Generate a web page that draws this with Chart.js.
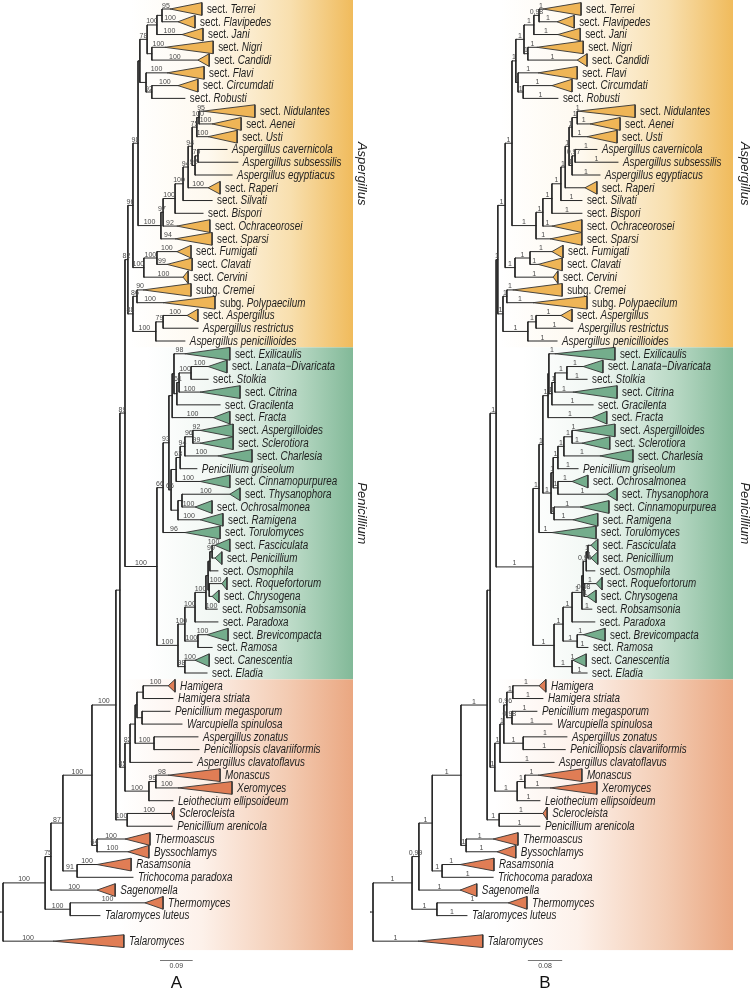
<!DOCTYPE html>
<html>
<head>
<meta charset="utf-8">
<title>Aspergillaceae phylogeny</title>
<script src="https://cdn.jsdelivr.net/npm/chart.js@4.4.1/dist/chart.umd.min.js"></script>
<style>
  html, body { margin: 0; padding: 0; background: #fff; }
  body { position: relative; width: 753px; height: 993px; overflow: hidden; }
  .panel { position: absolute; top: 0; height: 993px; }
  #panelA { left: 0; width: 370px; }
  #panelB { left: 370px; width: 383px; }
</style>
</head>
<body>
<div class="panel" id="panelA"><canvas id="treeA"></canvas></div>
<div class="panel" id="panelB"><canvas id="treeB"></canvas></div>
<script>
// ---------- data ----------
// internal nodes: [id, parent, depth from root (subst./site), support]
const nodesA = [
  ['root', null, 0, ''],
  ['tT', 'root', 0.116, '100'], ['tU', 'tT', 0.132, '75'], ['tV', 'tU', 0.165, '87'],
  ['tW', 'tV', 0.245, '100'], ['tZ', 'tW', 0.311, '100'], ['tY', 'tZ', 0.322, ''],
  ['tX', 'tY', 0.336, '89'], ['asp', 'tX', 0.344, '82'], ['a11', 'asp', 0.358, '96'],
  ['a8', 'a11', 0.372, '98'], ['a5', 'a8', 0.377, ''], ['a3', 'a5', 0.397, '78'],
  ['a2', 'a3', 0.424, '100'], ['a1', 'a2', 0.438, ''], ['a4', 'a3', 0.410, ''],
  ['a6', 'a5', 0.394, ''], ['a7', 'a6', 0.410, '92'], ['a10', 'a8', 0.435, '100'],
  ['aq', 'a10', 0.441, '97'], ['ab2', 'aq', 0.474, '100'], ['ac2', 'ab2', 0.496, '100'],
  ['ad2', 'ac2', 0.510, '94'], ['ac', 'ad2', 0.521, '94'], ['ab', 'ac', 0.534, '75'],
  ['aa', 'ab', 0.540, '100'], ['ace3', 'ac', 0.529, '92'], ['acs', 'ace3', 0.537, '79'],
  ['afcc', 'a11', 0.388, '100'], ['afc', 'afcc', 0.424, '100'],
  ['acparp', 'asp', 0.358, '88'], ['acp', 'acparp', 0.369, '86'],
  ['aarp', 'acparp', 0.421, '100'], ['aar', 'aarp', 0.441, '79'],
  ['pen', 'tX', 0.424, '100'], ['pup', 'pen', 0.441, '66'], ['px', 'pup', 0.457, '93'],
  ['pef', 'px', 0.466, ''], ['pe', 'pef', 0.471, ''], ['plscg', 'pe', 0.479, ''],
  ['plsc', 'plscg', 0.485, '61'], ['pls', 'plsc', 0.518, '100'],
  ['py', 'px', 0.463, '66'], ['pg2', 'py', 0.477, ''], ['pascg', 'pg2', 0.488, '63'],
  ['pasc', 'pascg', 0.501, '94'], ['pas', 'pasc', 0.523, '96'],
  ['pr', 'py', 0.482, ''], ['pto', 'pr', 0.493, ''],
  ['plow', 'pen', 0.482, '100'], ['ppb', 'plow', 0.501, '100'], ['ppar', 'ppb', 0.529, '100'],
  ['prob', 'ppar', 0.559, '100'], ['pfrc', 'prob', 0.565, ''], ['pfpo', 'pfrc', 0.570, ''],
  ['pfp', 'pfpo', 0.576, '99'], ['prc', 'pfrc', 0.568, ''], ['pbr', 'ppb', 0.537, '100'],
  ['pce', 'plow', 0.501, '98'],
  ['oth', 'tY', 0.336, '85'], ['ohc', 'oth', 0.350, '82'], ['oh6', 'ohc', 0.364, ''],
  ['ohw', 'oh6', 0.369, ''], ['oham', 'ohw', 0.386, ''], ['omw', 'ohw', 0.383, ''],
  ['ozp', 'oh6', 0.416, '100'], ['omon', 'oth', 0.402, '100'], ['omx', 'omon', 0.421, '99'],
  ['osa', 'tZ', 0.342, '100'], ['otb', 'tW', 0.259, '64'], ['ort', 'tV', 0.204, '91'],
  ['otl', 'tT', 0.185, '100']
];
// tips in display order: [label, parent, branch end, collapsed-clade end (null = single taxon), support]
const tipsA = [
  ['sect. Terrei', 'a1', 0.460, 0.548, '95'], ['sect. Flavipedes', 'a1', 0.482, 0.529, '100'],
  ['sect. Jani', 'a2', 0.493, 0.551, '100'], ['sect. Nigri', 'a4', 0.446, 0.579, '100'],
  ['sect. Candidi', 'a4', 0.537, 0.568, '100'], ['sect. Flavi', 'a6', 0.452, 0.554, '100'],
  ['sect. Circumdati', 'a7', 0.482, 0.537, '100'], ['sect. Robusti', 'a7', 0.501, null, ''],
  ['sect. Nidulantes', 'aa', 0.551, 0.694, '95'], ['sect. Aenei', 'aa', 0.576, 0.656, '100'],
  ['sect.  Usti', 'ab', 0.565, 0.645, '100'], ['Aspergillus cavernicola', 'acs', 0.617, null, ''],
  ['Aspergillus subsessilis', 'acs', 0.647, null, ''], ['Aspergillus egyptiacus', 'ace3', 0.631, null, ''],
  ['sect. Raperi', 'ad2', 0.565, 0.598, '100'], ['sect. Silvati', 'ac2', 0.576, null, ''],
  ['sect. Bispori', 'ab2', 0.551, null, ''], ['sect. Ochraceorosei', 'aq', 0.479, 0.570, '92'],
  ['sect. Sparsi', 'a10', 0.474, 0.576, '94'], ['sect. Fumigati', 'afc', 0.479, 0.518, '100'],
  ['sect. Clavati', 'afc', 0.452, 0.521, '99'], ['sect. Cervini', 'afcc', 0.496, 0.510, '100'],
  ['subg. Cremei', 'acp', 0.386, 0.518, '90'], ['subg. Polypaecilum', 'acp', 0.441, 0.584, '100'],
  ['sect. Aspergillus', 'aar', 0.507, 0.537, '100'], ['Aspergillus restrictus', 'aar', 0.537, null, ''],
  ['Aspergillus penicillioides', 'aarp', 0.501, null, ''],
  ['sect. Exilicaulis', 'pe', 0.501, 0.625, '98'], ['sect. Lanata\u2212Divaricata', 'pls', 0.565, 0.617, '100'],
  ['sect. Stolkia', 'pls', 0.565, null, ''], ['sect. Citrina', 'plsc', 0.543, 0.653, '100'],
  ['sect. Gracilenta', 'plscg', 0.598, null, ''], ['sect. Fracta', 'pef', 0.579, 0.625, '100'],
  ['sect. Aspergilloides', 'pas', 0.543, 0.634, '92'], ['sect. Sclerotiora', 'pas', 0.543, 0.634, '99'],
  ['sect. Charlesia', 'pasc', 0.592, 0.686, '100'], ['Penicillium griseolum', 'pascg', 0.534, null, ''],
  ['sect. Cinnamopurpurea', 'pg2', 0.543, 0.625, '100'], ['sect. Thysanophora', 'pto', 0.625, 0.653, '100'],
  ['sect. Ochrosalmonea', 'pto', 0.529, 0.576, '100'], ['sect. Ramigena', 'pr', 0.543, 0.606, '100'],
  ['sect. Torulomyces', 'pup', 0.501, 0.598, '96'], ['sect. Fasciculata', 'pfp', 0.584, 0.625, '100'],
  ['sect. Penicillium', 'pfp', 0.584, 0.603, ''], ['sect. Osmophila', 'pfpo', 0.592, null, ''],
  ['sect. Roquefortorum', 'prc', 0.603, 0.617, '100'], ['sect. Chrysogena', 'prc', 0.576, 0.595, ''],
  ['sect. Robsamsonia', 'prob', 0.590, null, '100'], ['sect. Paradoxa', 'ppar', 0.592, null, ''],
  ['sect. Brevicompacta', 'pbr', 0.562, 0.620, '100'], ['sect. Ramosa', 'pbr', 0.576, null, ''],
  ['sect. Canescentia', 'pce', 0.529, 0.568, '100'], ['sect. Eladia', 'pce', 0.562, null, ''],
  ['Hamigera', 'oham', 0.455, 0.474, '100'], ['Hamigera striata', 'oham', 0.468, null, ''],
  ['Penicillium megasporum', 'omw', 0.460, null, ''], ['Warcupiella spinulosa', 'omw', 0.493, null, ''],
  ['Aspergillus zonatus', 'ozp', 0.537, null, ''], ['Penicilliopsis clavariiformis', 'ozp', 0.540, null, ''],
  ['Aspergillus clavatoflavus', 'ohc', 0.521, null, ''], ['Monascus', 'omx', 0.455, 0.598, '98'],
  ['Xeromyces', 'omx', 0.482, 0.631, '100'], ['Leiothecium ellipsoideum', 'omon', 0.468, null, ''],
  ['Sclerocleista', 'osa', 0.463, 0.471, '100'], ['Penicillium arenicola', 'osa', 0.466, null, ''],
  ['Thermoascus', 'otb', 0.336, 0.405, '100'], ['Byssochlamys', 'otb', 0.344, 0.402, '100'],
  ['Rasamsonia', 'ort', 0.259, 0.353, '100'], ['Trichocoma paradoxa', 'ort', 0.358, null, ''],
  ['Sagenomella', 'tU', 0.259, 0.309, '100'], ['Thermomyces', 'otl', 0.391, 0.441, '100'],
  ['Talaromyces luteus', 'otl', 0.267, null, ''], ['Talaromyces', 'root', 0.138, 0.333, '100']
];

const nodesB = [
  ['root', null, 0, ''],
  ['tT', 'root', 0.091, '1'], ['tU', 'tT', 0.107, '0,99'], ['tV', 'tU', 0.138, '1'],
  ['tW', 'tV', 0.205, '1'], ['tZ', 'tW', 0.266, '1'], ['tY', 'tZ', 0.273, ''],
  ['tX', 'tY', 0.287, '1'], ['asp', 'tX', 0.291, '1'], ['a11', 'asp', 0.308, '1'],
  ['a8', 'a11', 0.324, '1'], ['a5', 'a8', 0.333, '1'], ['a3', 'a5', 0.352, '1'],
  ['a2', 'a3', 0.375, '1'], ['a1', 'a2', 0.387, '0,98'], ['a4', 'a3', 0.361, '1'],
  ['a6', 'a5', 0.338, '1'], ['a7', 'a6', 0.350, '1'], ['a10', 'a8', 0.380, '1'],
  ['aq', 'a10', 0.396, '1'], ['ab2', 'aq', 0.417, '1'], ['ac2', 'ab2', 0.438, '1'],
  ['ad2', 'ac2', 0.448, '1'], ['ac', 'ad2', 0.457, '1'], ['ab', 'ac', 0.464, '1'],
  ['aa', 'ab', 0.476, '1'], ['ace3', 'ac', 0.464, '1'], ['acs', 'ace3', 0.471, '0,97'],
  ['afcc', 'a11', 0.331, '1'], ['afc', 'afcc', 0.366, '1'],
  ['acparp', 'asp', 0.303, '1'], ['acp', 'acparp', 0.312, '1'],
  ['aarp', 'acparp', 0.361, '1'], ['aar', 'aarp', 0.380, '1'],
  ['pen', 'tX', 0.373, '1'], ['pup', 'pen', 0.387, '1'], ['px', 'pup', 0.396, '1'],
  ['pef', 'px', 0.408, '1'], ['pe', 'pef', 0.410, ''], ['plscg', 'pe', 0.417, '1'],
  ['plsc', 'plscg', 0.424, '1'], ['pls', 'plsc', 0.452, '1'],
  ['pp4', 'px', 0.415, '1'], ['pp3', 'pp4', 0.420, '1'], ['pascg', 'pp3', 0.431, '1'],
  ['pasc', 'pascg', 0.445, '1'], ['pas', 'pasc', 0.464, '1'], ['pot', 'pp3', 0.431, '1'],
  ['pcr', 'pp4', 0.422, '1'],
  ['plow', 'pen', 0.422, '1'], ['ppb', 'plow', 0.443, '1'], ['ppar', 'ppb', 0.464, '1'],
  ['prob', 'ppar', 0.487, '1'], ['pfrc', 'prob', 0.490, ''], ['pfpo', 'pfrc', 0.497, '0,99'],
  ['pfp', 'pfpo', 0.501, '1'], ['prc', 'pfrc', 0.492, '0,98'], ['pbr', 'ppb', 0.476, '1'],
  ['pce', 'plow', 0.464, '1'],
  ['oth', 'tY', 0.284, '1'], ['ohc', 'oth', 0.296, '1'], ['oh6', 'ohc', 0.305, '1'],
  ['ohw', 'oh6', 0.312, '0,96'], ['oham', 'ohw', 0.326, '1'], ['omw', 'ohw', 0.324, '0,98'],
  ['ozp', 'oh6', 0.350, '1'], ['omon', 'oth', 0.336, '1'], ['omx', 'omon', 0.354, '1'],
  ['osa', 'tZ', 0.294, '1'], ['otb', 'tW', 0.217, '1'], ['ort', 'tV', 0.161, '1'],
  ['otl', 'tT', 0.149, '1']
];
const tipsB = [
  ['sect. Terrei', 'a1', 0.396, 0.485, '1'], ['sect. Flavipedes', 'a1', 0.429, 0.469, '1'],
  ['sect. Jani', 'a2', 0.431, 0.483, '1'], ['sect. Nigri', 'a4', 0.382, 0.490, '1'],
  ['sect. Candidi', 'a4', 0.476, 0.499, '1'], ['sect. Flavi', 'a6', 0.385, 0.476, '1'],
  ['sect. Circumdati', 'a7', 0.417, 0.464, '1'], ['sect. Robusti', 'a7', 0.431, null, '1'],
  ['sect. Nidulantes', 'aa', 0.478, 0.611, '1'], ['sect. Aenei', 'aa', 0.506, 0.576, '1'],
  ['sect. Usti', 'ab', 0.499, 0.569, '1'], ['Aspergillus cavernicola', 'acs', 0.522, null, '1'],
  ['Aspergillus subsessilis', 'acs', 0.571, null, '1'], ['Aspergillus egyptiacus', 'ace3', 0.529, null, '1'],
  ['sect. Raperi', 'ad2', 0.494, 0.522, ''], ['sect. Silvati', 'ac2', 0.487, null, '1'],
  ['sect. Bispori', 'ab2', 0.487, null, '1'], ['sect. Ochraceorosei', 'aq', 0.417, 0.487, '1'],
  ['sect. Sparsi', 'a10', 0.413, 0.487, '1'], ['sect. Fumigati', 'afc', 0.417, 0.443, '1'],
  ['sect. Clavati', 'afc', 0.385, 0.441, '1'], ['sect. Cervini', 'afcc', 0.420, 0.431, '1'],
  ['subg. Cremei', 'acp', 0.326, 0.441, '1'], ['subg. Polypaecilum', 'acp', 0.373, 0.499, '1'],
  ['sect. Aspergillus', 'aar', 0.438, 0.464, '1'], ['Aspergillus restrictus', 'aar', 0.466, null, '1'],
  ['Aspergillus penicillioides', 'aarp', 0.429, null, '1'],
  ['sect. Exilicaulis', 'pe', 0.424, 0.564, '1'], ['sect. Lanata\u2212Divaricata', 'pls', 0.490, 0.536, '1'],
  ['sect. Stolkia', 'pls', 0.499, null, '1'], ['sect. Citrina', 'plsc', 0.466, 0.569, '1'],
  ['sect. Gracilenta', 'plscg', 0.513, null, '1'], ['sect. Fracta', 'pef', 0.510, 0.545, '1'],
  ['sect. Aspergilloides', 'pas', 0.471, 0.564, '1'], ['sect. Sclerotiora', 'pas', 0.487, 0.552, '1'],
  ['sect. Charlesia', 'pasc', 0.529, 0.606, '1'], ['Penicillium griseolum', 'pascg', 0.478, null, '1'],
  ['sect. Ochrosalmonea', 'pot', 0.464, 0.501, '1'], ['sect. Thysanophora', 'pot', 0.545, 0.569, '1'],
  ['sect. Cinnamopurpurea', 'pcr', 0.483, 0.550, '1'], ['sect. Ramigena', 'pcr', 0.466, 0.524, '1'],
  ['sect. Torulomyces', 'pup', 0.417, 0.520, '1'], ['sect. Fasciculata', 'pfp', 0.508, 0.524, ''],
  ['sect. Penicillium', 'pfp', 0.508, 0.524, '1'], ['sect. Osmophila', 'pfpo', 0.517, null, ''],
  ['sect. Roquefortorum', 'prc', 0.520, 0.534, '1'], ['sect. Chrysogena', 'prc', 0.499, 0.520, '1'],
  ['sect. Robsamsonia', 'prob', 0.510, null, '1'], ['sect. Paradoxa', 'ppar', 0.517, null, ''],
  ['sect. Brevicompacta', 'pbr', 0.490, 0.541, '1'], ['sect. Ramosa', 'pbr', 0.501, null, '1'],
  ['sect. Canescentia', 'pce', 0.466, 0.497, '1'], ['sect. Eladia', 'pce', 0.499, null, '1'],
  ['Hamigera', 'oham', 0.387, 0.403, '1'], ['Hamigera striata', 'oham', 0.396, null, '1'],
  ['Penicillium megasporum', 'omw', 0.382, null, '1'], ['Warcupiella spinulosa', 'omw', 0.417, null, '1'],
  ['Aspergillus zonatus', 'ozp', 0.452, null, '1'], ['Penicilliopsis clavariiformis', 'ozp', 0.448, null, '1'],
  ['Aspergillus clavatoflavus', 'ohc', 0.422, null, '1'], ['Monascus', 'omx', 0.385, 0.487, '1'],
  ['Xeromyces', 'omx', 0.413, 0.522, '1'], ['Leiothecium ellipsoideum', 'omon', 0.389, null, '1'],
  ['Sclerocleista', 'osa', 0.396, 0.406, '1'], ['Penicillium arenicola', 'osa', 0.389, null, '1'],
  ['Thermoascus', 'otb', 0.280, 0.338, '1'], ['Byssochlamys', 'otb', 0.289, 0.333, '1'],
  ['Rasamsonia', 'ort', 0.203, 0.282, '1'], ['Trichocoma paradoxa', 'ort', 0.280, null, '1'],
  ['Sagenomella', 'tU', 0.203, 0.242, '1'], ['Thermomyces', 'otl', 0.315, 0.359, '1'],
  ['Talaromyces luteus', 'otl', 0.219, null, '1'], ['Talaromyces', 'root', 0.105, 0.256, '1']
];

const cladeNames = ['Aspergillus', 'Penicillium', ''];
const cladeFirstTip = ['sect. Terrei', 'sect. Exilicaulis', 'Hamigera'];
const gapBefore = ['Talaromyces'];   // one empty row above the outgroup

// ---------- styles ----------
const CLADE_FILL = ['#efb556', '#74ad8c', '#e07d55'];
const CLADE_BAND = [
  ['#ffffff', '#fef9ef', '#f8dfae', '#f0bb5c'],
  ['#ffffff', '#f1f7f3', '#b9d9c5', '#82b998'],
  ['#ffffff', '#fdf1ea', '#f3cbb2', '#eaa781']
];
const TRI_HALF = 0.5;
const Y_MIN = -0.705, Y_MAX = 77.06;
const SCALEBAR_ROW = 74.47, LETTER_ROW = 76.3;

function hasFont(name) {
  const c = document.createElement('canvas').getContext('2d');
  const s = 'abcdefghijklmnopqrstuvwxyz ABCDEFG';
  c.font = '20px monospace';
  const w0 = c.measureText(s).width;
  c.font = '20px "' + name + '", monospace';
  return c.measureText(s).width !== w0;
}
const NARROW = hasFont('Liberation Sans Narrow');
const TIP_FAMILY = NARROW ? '"Liberation Sans Narrow", sans-serif' : '"Liberation Sans", Arial, sans-serif';
const SMALL_FAMILY = TIP_FAMILY;

function buildTree(nodes, tips) {
  const map = {};
  nodes.forEach(([id, parent, depth, support]) => {
    map[id] = { id, parent, depth, support, kids: [] };
  });
  const starts = cladeFirstTip.map(l => tips.findIndex(t => t[0] === l));
  let row = 0;
  const leaves = tips.map(([label, parent, depth, end, support], i) => {
    if (gapBefore.includes(label)) row++;
    let clade = 0;
    starts.forEach((s, k) => { if (i >= s) clade = k; });
    const leaf = { label, parent, depth, end, support, y: row++, clade, kids: null };
    map[parent].kids.push(leaf);
    return leaf;
  });
  nodes.forEach(([id, parent]) => { if (parent) map[parent].kids.push(map[id]); });
  const setY = n => {
    if (!n.kids) return n.y;
    const ys = n.kids.map(setY);
    n.y0 = Math.min(...ys);
    n.y1 = Math.max(...ys);
    n.y = (n.y0 + n.y1) / 2;
    return n.y;
  };
  const root = map[nodes[0][0]];
  setY(root);
  return { map, leaves, root, starts, all: Object.values(map).concat(leaves) };
}

function drawTipName(ctx, label, x, y) {
  const m = label.match(/^(sect\.|subg\.)\s+(.*)$/);
  ctx.save();
  ctx.translate(x, y);
  if (!NARROW) ctx.scale(0.82, 1);
  ctx.fillStyle = '#1e1e1e';
  ctx.textBaseline = 'middle';
  ctx.textAlign = 'left';
  if (m) {
    ctx.font = '12px ' + TIP_FAMILY;
    ctx.fillText(m[1], 0, 0);
    const w = ctx.measureText(m[1] + ' ').width;
    ctx.font = 'italic 12px ' + TIP_FAMILY;
    ctx.fillText(m[2], w, 0);
  } else {
    ctx.font = 'italic 12px ' + TIP_FAMILY;
    ctx.fillText(label, 0, 0);
  }
  ctx.restore();
}

const treePlugin = {
  id: 'tree',
  beforeDatasetsDraw(chart, args, opts) {
    const { ctx, chartArea, scales: { x, y } } = chart;
    const t = opts.tree;
    ctx.save();
    t.starts.forEach((s, k) => {
      const last = k < t.starts.length - 1 ? t.starts[k + 1] - 1 : t.leaves.length - 1;
      const top = k === 0 ? chartArea.top : y.getPixelForValue(t.leaves[s].y - 0.5);
      const bottom = y.getPixelForValue(t.leaves[last].y + (k === t.starts.length - 1 ? 0.7 : 0.5));
      const left = opts.bandLeft[k], right = opts.bandRight;
      const g = ctx.createLinearGradient(left, 0, right, 0);
      const stops = CLADE_BAND[k];
      g.addColorStop(0, stops[0]); g.addColorStop(0.35, stops[1]);
      g.addColorStop(0.72, stops[2]); g.addColorStop(1, stops[3]);
      ctx.fillStyle = g;
      ctx.fillRect(left, top, right - left, bottom - top);
      if (cladeNames[k]) {
        ctx.save();
        ctx.translate(opts.cladeLabelX, (top + bottom) / 2);
        ctx.rotate(Math.PI / 2);
        ctx.font = 'italic 13px "Liberation Sans", Arial, sans-serif';
        ctx.fillStyle = '#222';
        ctx.textAlign = 'center';
        ctx.textBaseline = 'middle';
        ctx.fillText(cladeNames[k], 0, 0);
        ctx.restore();
      }
    });
    ctx.restore();
  },
  afterDatasetsDraw(chart, args, opts) {
    const { ctx, scales: { x, y } } = chart;
    const t = opts.tree;
    ctx.save();
    // support values above branches
    ctx.font = '7px ' + SMALL_FAMILY;
    ctx.fillStyle = '#4a4a4a';
    ctx.textAlign = 'center';
    ctx.textBaseline = 'alphabetic';
    t.all.forEach(n => {
      if (!n.parent || !n.support) return;
      const p = t.map[n.parent];
      const mx = (x.getPixelForValue(p.depth) + x.getPixelForValue(n.depth)) / 2;
      ctx.fillText(n.support, mx, y.getPixelForValue(n.y) - 1.5);
    });
    // tip names
    t.leaves.forEach(l => {
      const ex = x.getPixelForValue(l.end === null ? l.depth : l.end);
      drawTipName(ctx, l.label, ex + 5, y.getPixelForValue(l.y) + 0.5);
    });
    // scale bar
    const x0 = x.getPixelForValue(opts.scaleStart);
    const x1 = x.getPixelForValue(opts.scaleStart + opts.scaleLen);
    const sy = Math.round(y.getPixelForValue(SCALEBAR_ROW)) + 0.5;
    ctx.strokeStyle = '#777';
    ctx.lineWidth = 1;
    ctx.beginPath(); ctx.moveTo(x0, sy); ctx.lineTo(x1, sy); ctx.stroke();
    ctx.fillStyle = '#444';
    ctx.textBaseline = 'top';
    ctx.font = '7px ' + SMALL_FAMILY;
    ctx.fillText(String(opts.scaleLen), (x0 + x1) / 2, sy + 2);
    ctx.font = '17px "Liberation Sans", Arial, sans-serif';
    ctx.fillStyle = '#111';
    ctx.textBaseline = 'middle';
    ctx.fillText(opts.letter, (x0 + x1) / 2, y.getPixelForValue(LETTER_ROW));
    ctx.restore();
  }
};

function makeTree(canvasId, nodes, tips, cfg) {
  const tree = buildTree(nodes, tips);
  const datasets = [];
  tree.leaves.forEach(l => {
    if (l.end === null) return;
    datasets.push({
      data: [
        { x: l.depth, y: l.y },
        { x: l.end, y: l.y - TRI_HALF },
        { x: l.end, y: l.y + TRI_HALF },
        { x: l.depth, y: l.y }
      ],
      fill: 'shape',
      backgroundColor: CLADE_FILL[l.clade],
      borderColor: '#333',
      borderWidth: 0.9,
      pointRadius: 0,
      tension: 0
    });
  });
  // branches: horizontal from parent, vertical spanning children
  const seg = [];
  const gap = { x: null, y: null };
  tree.all.forEach(n => {
    const p = n.parent ? tree.map[n.parent] : null;
    seg.push({ x: p ? p.depth : cfg.xMin, y: n.y }, { x: n.depth, y: n.y }, gap);
    if (n.kids) seg.push({ x: n.depth, y: n.y0 }, { x: n.depth, y: n.y1 }, gap);
  });
  datasets.push({
    data: seg,
    fill: false,
    borderColor: '#262626',
    borderWidth: 1,
    pointRadius: 0,
    tension: 0,
    spanGaps: false,
    borderCapStyle: 'square'
  });

  return new Chart(document.getElementById(canvasId), {
    type: 'line',
    data: { datasets },
    options: {
      responsive: true,
      maintainAspectRatio: false,
      animation: false,
      events: [],
      layout: { padding: 0 },
      scales: {
        x: { type: 'linear', min: cfg.xMin, max: cfg.xMax, display: false },
        y: { type: 'linear', min: Y_MIN, max: Y_MAX, reverse: true, display: false }
      },
      plugins: {
        legend: { display: false },
        tooltip: { enabled: false },
        tree: Object.assign({ tree }, cfg)
      }
    },
    plugins: [treePlugin]
  });
}

makeTree('treeA', nodesA, tipsA, {
  xMin: -0.0083, xMax: 1.0110,
  bandLeft: [130, 147, 120], bandRight: 353, cladeLabelX: 362,
  scaleStart: 0.4325, scaleLen: 0.09, letter: 'A'
});
makeTree('treeB', nodesB, tipsB, {
  xMin: -0.0070, xMax: 0.8858,
  bandLeft: [130, 153, 125], bandRight: 363, cladeLabelX: 375,
  scaleStart: 0.361, scaleLen: 0.08, letter: 'B'
});
</script>
</body>
</html>
